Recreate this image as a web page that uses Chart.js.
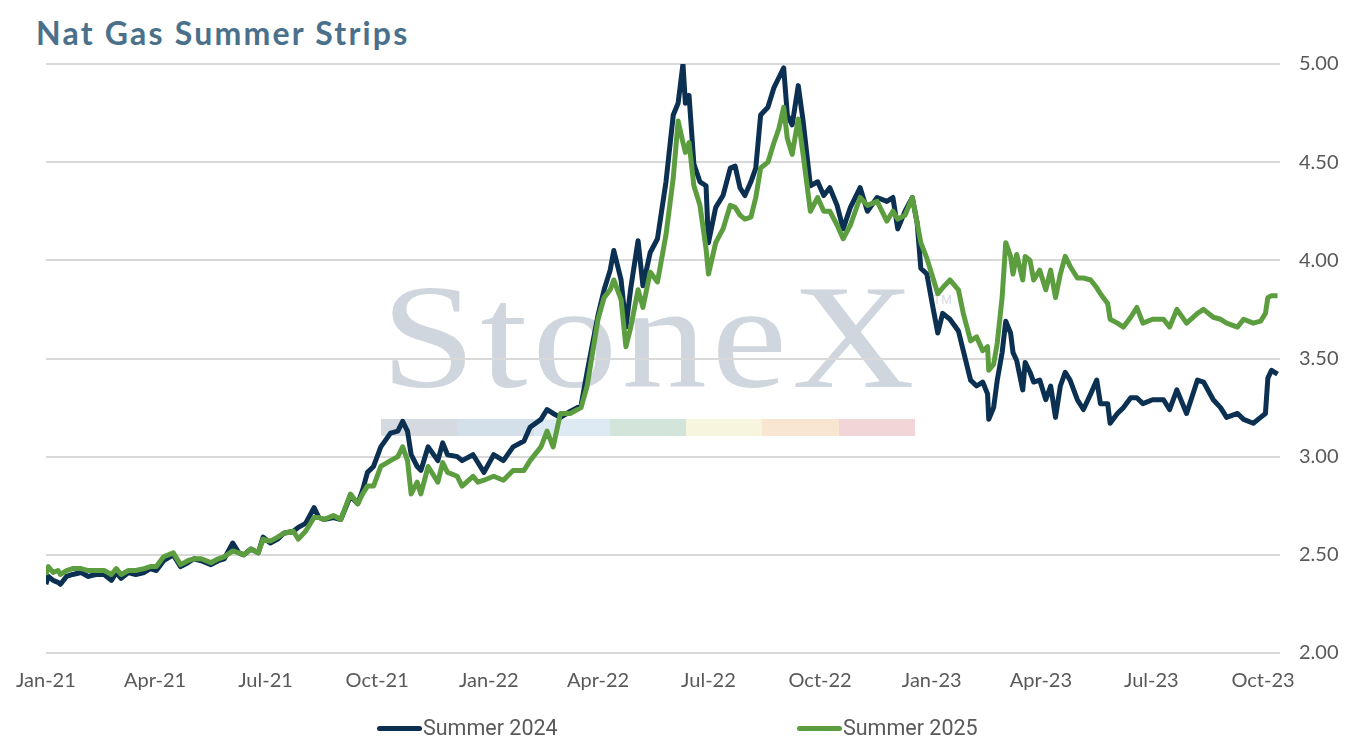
<!DOCTYPE html>
<html lang="en">
<head>
    <meta charset="UTF-8">
    <title>Nat Gas Summer Strips</title>
    <script src="https://cdn.jsdelivr.net/npm/chart.js@4.4.1/dist/chart.umd.min.js"></script>
    <style>
        html, body { margin: 0; padding: 0; background: #fff; }
        .wrap { position: relative; width: 1356px; height: 748px; overflow: hidden; }
        .title { position: absolute; left: 36px; top: 13px; font-family: Lato, sans-serif; font-weight: 700;
                 font-size: 32px; color: #4a708b; letter-spacing: 2.2px; }
        .watermark { position: absolute; left: 381px; top: 262px; width: 534px; height: 180px; z-index: 0; }
        .watermark .word { position: absolute; left: 0; top: 0; font-family: "Liberation Serif", serif;
                           font-size: 148px; line-height: 150px; color: #d0d6de; letter-spacing: 4px;
                           transform: scaleX(1.15); transform-origin: left top; }
        .watermark .tm { position: absolute; left: 552px; top: 30px; font-family: "Liberation Sans", sans-serif;
                         font-size: 13px; color: #d6dbe2; }
        .watermark .bars { position: absolute; left: 0; top: 157px; width: 534px; height: 17px; display: flex; }
        .watermark .bars span { flex: 1; }
        canvas { position: relative; z-index: 1; }
        .legend { position: absolute; top: 715px; height: 26px; line-height: 26px; font-family: Roboto, sans-serif;
                  font-size: 21.5px; color: #595959; display: flex; align-items: center; z-index: 2; }
        .legend i { display: inline-block; width: 45px; height: 5px; border-radius: 2.5px; margin-right: 1px; }
    </style>
</head>
<body>
<div class="wrap">
    <div class="title">Nat Gas Summer Strips</div>
    <div class="watermark">
        <div class="word">StoneX</div>
        <div class="tm">TM</div>
        <div class="bars">
            <span style="background:#d5dae1"></span>
            <span style="background:#d3dfe9"></span>
            <span style="background:#dde9f3"></span>
            <span style="background:#d3e4da"></span>
            <span style="background:#f8f5de"></span>
            <span style="background:#f9e6d0"></span>
            <span style="background:#f2d5d6"></span>
        </div>
    </div>
    <canvas id="stripChart" width="1356" height="748"></canvas>
    <div class="legend" style="left:377px"><i style="background:#0b3052"></i>Summer 2024</div>
    <div class="legend" style="left:797px"><i style="background:#5c9e3f"></i>Summer 2025</div>
</div>

<script>
    // days since 2021-01-01 for each sampled point
    const dayOffsets = [
        0, 2, 6, 10, 12, 17, 22, 29, 35, 41, 48, 54, 58, 62, 68, 74, 81, 86, 91, 97,
        105, 111, 117, 122, 128, 136, 142, 147, 154, 159, 163, 169, 175, 179, 185, 191, 196, 204, 208, 214,
        221, 225, 229, 237, 243, 251, 257, 261, 265, 270, 276, 284, 290, 294, 298, 301, 306, 309, 315, 323,
        327, 331, 339, 343, 352, 356, 361, 369, 377, 385, 394, 399, 408, 413, 418, 424, 432, 441, 446, 455,
        460, 465, 468, 474, 478, 482, 488, 492, 498, 504, 511, 517, 521, 525, 527, 530, 534, 539, 544, 546,
        552, 558, 564, 568, 572, 576, 581, 585, 589, 595, 600, 604, 608, 611, 615, 620, 624, 630, 636, 641,
        646, 652, 657, 663, 671, 677, 685, 693, 698, 702, 708, 714, 718, 721, 726, 731, 735, 739, 745, 752,
        756, 762, 767, 772, 776, 777, 781, 784, 788, 791, 795, 797, 800, 805, 807, 811, 814, 819, 824, 828,
        832, 836, 840, 844, 850, 855, 861, 866, 869, 875, 877, 883, 888, 894, 899, 904, 912, 921, 926, 932,
        940, 949, 954, 962, 968, 973, 982, 987, 995, 1001, 1005, 1007, 1010, 1015
    ];

    const summer2024 = [
        2.35, 2.39, 2.37, 2.36, 2.35, 2.39, 2.40, 2.41, 2.39, 2.40, 2.40, 2.37, 2.41, 2.38, 2.41, 2.40, 2.41, 2.43, 2.42, 2.47,
        2.50, 2.44, 2.46, 2.48, 2.47, 2.45, 2.47, 2.48, 2.56, 2.51, 2.50, 2.53, 2.51, 2.59, 2.56, 2.58, 2.61, 2.62, 2.64, 2.66,
        2.74, 2.69, 2.68, 2.69, 2.68, 2.80, 2.76, 2.83, 2.92, 2.95, 3.05, 3.12, 3.13, 3.18, 3.13, 3.01, 2.95, 2.93, 3.05, 2.98,
        3.07, 3.01, 3.00, 2.98, 3.01, 2.97, 2.92, 3.01, 2.98, 3.05, 3.08, 3.15, 3.19, 3.24, 3.22, 3.20, 3.23, 3.26, 3.43, 3.72,
        3.85, 3.95, 4.05, 3.90, 3.66, 3.86, 4.10, 3.87, 4.04, 4.11, 4.40, 4.74, 4.80, 5.00, 4.80, 4.84, 4.49, 4.40, 4.38, 4.09,
        4.27, 4.33, 4.47, 4.48, 4.37, 4.33, 4.40, 4.47, 4.74, 4.78, 4.88, 4.93, 4.98, 4.74, 4.69, 4.89, 4.71, 4.38, 4.40, 4.33,
        4.37, 4.28, 4.16, 4.27, 4.37, 4.25, 4.32, 4.30, 4.32, 4.16, 4.25, 4.32, 4.19, 3.96, 3.93, 3.76, 3.63, 3.73, 3.70, 3.64,
        3.54, 3.39, 3.36, 3.38, 3.32, 3.19, 3.25, 3.39, 3.53, 3.69, 3.63, 3.53, 3.49, 3.34, 3.48, 3.43, 3.38, 3.39, 3.29, 3.36,
        3.20, 3.36, 3.43, 3.39, 3.29, 3.24, 3.32, 3.39, 3.27, 3.27, 3.17, 3.22, 3.25, 3.30, 3.30, 3.27, 3.29, 3.29, 3.24, 3.34,
        3.22, 3.39, 3.38, 3.29, 3.25, 3.20, 3.22, 3.19, 3.17, 3.20, 3.22, 3.40, 3.44, 3.42
    ];

    const summer2025 = [
        2.40, 2.44, 2.41, 2.42, 2.40, 2.42, 2.43, 2.43, 2.42, 2.42, 2.42, 2.40, 2.43, 2.40, 2.42, 2.42, 2.43, 2.44, 2.44, 2.49,
        2.51, 2.45, 2.47, 2.48, 2.48, 2.46, 2.48, 2.49, 2.52, 2.51, 2.50, 2.53, 2.51, 2.58, 2.57, 2.59, 2.61, 2.62, 2.58, 2.62,
        2.69, 2.69, 2.68, 2.70, 2.68, 2.81, 2.76, 2.81, 2.85, 2.85, 2.95, 2.98, 3.00, 3.05, 2.98, 2.81, 2.87, 2.81, 2.95, 2.87,
        2.97, 2.92, 2.90, 2.85, 2.90, 2.87, 2.88, 2.90, 2.88, 2.93, 2.93, 2.98, 3.05, 3.13, 3.05, 3.22, 3.22, 3.25, 3.36, 3.70,
        3.81, 3.85, 3.90, 3.80, 3.56, 3.66, 3.85, 3.76, 3.94, 3.89, 4.13, 4.42, 4.71, 4.60, 4.55, 4.60, 4.38, 4.28, 4.06, 3.93,
        4.09, 4.16, 4.28, 4.27, 4.23, 4.21, 4.22, 4.32, 4.47, 4.50, 4.60, 4.67, 4.78, 4.62, 4.54, 4.72, 4.54, 4.25, 4.32, 4.25,
        4.25, 4.18, 4.11, 4.18, 4.32, 4.28, 4.30, 4.20, 4.25, 4.21, 4.23, 4.32, 4.19, 4.09, 4.01, 3.91, 3.83, 3.86, 3.90, 3.85,
        3.73, 3.59, 3.61, 3.54, 3.56, 3.44, 3.47, 3.58, 3.81, 4.09, 4.02, 3.93, 4.03, 3.90, 4.02, 4.00, 3.90, 3.95, 3.85, 3.95,
        3.81, 3.93, 4.02, 3.97, 3.91, 3.91, 3.90, 3.86, 3.83, 3.78, 3.70, 3.68, 3.66, 3.71, 3.76, 3.68, 3.70, 3.70, 3.66, 3.75,
        3.68, 3.73, 3.75, 3.71, 3.70, 3.68, 3.66, 3.70, 3.68, 3.69, 3.73, 3.81, 3.82, 3.82
    ];

    // quarter starts (days since 2021-01-01) and their labels
    const tickDays = [0, 90, 181, 273, 365, 455, 546, 638, 730, 820, 911, 1003];
    const tickLabels = ['Jan-21', 'Apr-21', 'Jul-21', 'Oct-21', 'Jan-22', 'Apr-22',
                        'Jul-22', 'Oct-22', 'Jan-23', 'Apr-23', 'Jul-23', 'Oct-23'];

    const toPoints = vals => vals.map((v, i) => ({ x: dayOffsets[i], y: v }));

    const ctx = document.getElementById('stripChart').getContext('2d');
    new Chart(ctx, {
        type: 'line',
        data: {
            datasets: [
                {
                    label: 'Summer 2024',
                    data: toPoints(summer2024),
                    borderColor: '#0b3052',
                    borderWidth: 5,
                    pointRadius: 0,
                    borderJoinStyle: 'round',
                    order: 1
                },
                {
                    label: 'Summer 2025',
                    data: toPoints(summer2025),
                    borderColor: '#5c9e3f',
                    borderWidth: 5,
                    pointRadius: 0,
                    borderJoinStyle: 'round',
                    order: 0
                }
            ]
        },
        options: {
            responsive: false,
            animation: false,
            layout: { padding: { left: 45, right: 0, top: 64, bottom: 45 } },
            plugins: {
                legend: { display: false },
                tooltip: { enabled: false }
            },
            scales: {
                x: {
                    type: 'linear',
                    min: 0,
                    max: 1017,
                    afterBuildTicks: scale => {
                        scale.ticks = tickDays.map(d => ({ value: d }));
                    },
                    afterFit: scale => { scale.height = 50; },
                    ticks: {
                        autoSkip: false,
                        maxRotation: 0,
                        padding: 16,
                        color: '#595959',
                        font: { family: 'Lato', size: 20 },
                        callback: value => tickLabels[tickDays.indexOf(value)]
                    },
                    grid: { display: false, drawTicks: false },
                    border: { display: false }
                },
                y: {
                    position: 'right',
                    min: 2,
                    max: 5,
                    afterFit: scale => { scale.width = 76; },
                    ticks: {
                        stepSize: 0.5,
                        padding: 19,
                        color: '#595959',
                        font: { family: 'Lato', size: 20 },
                        callback: value => value.toFixed(2)
                    },
                    grid: { color: '#d9d9d9', lineWidth: 2, drawTicks: false },
                    border: { display: false }
                }
            }
        }
    });
</script>
</body>
</html>
